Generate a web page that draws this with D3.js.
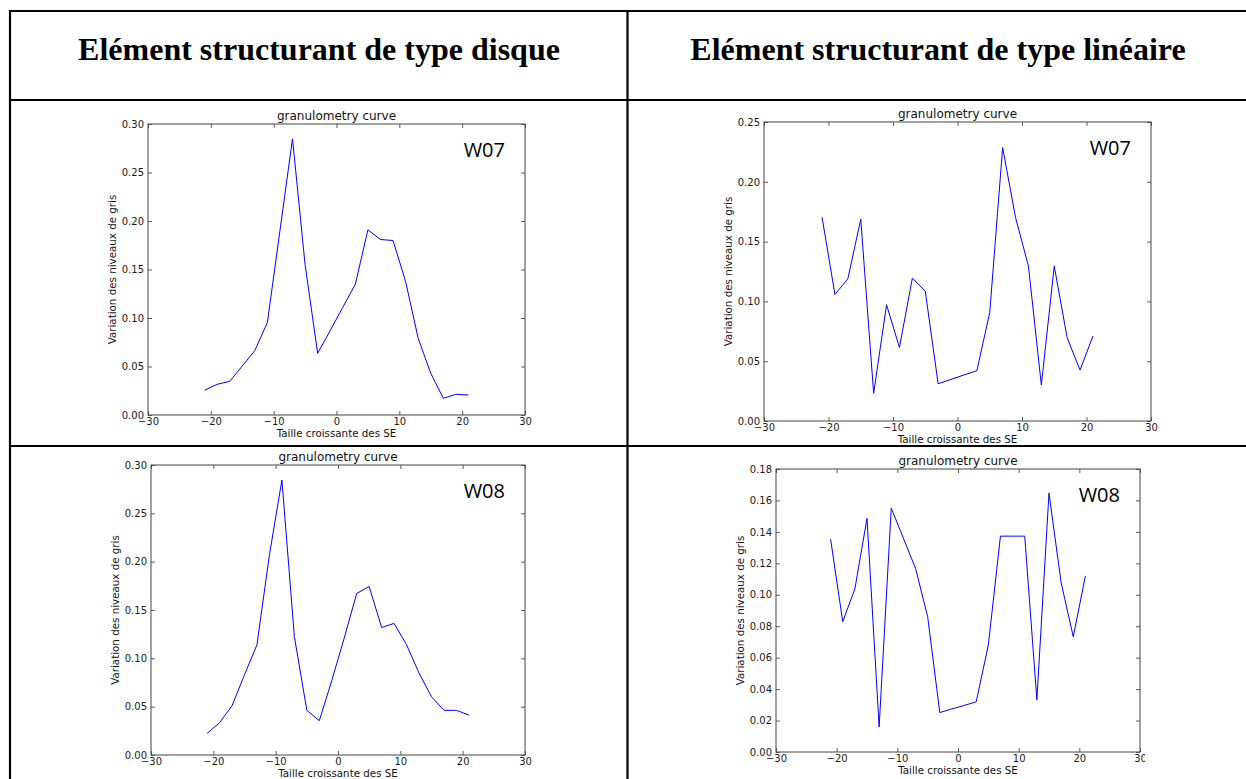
<!DOCTYPE html>
<html>
<head>
<meta charset="utf-8">
<script src="https://cdn.jsdelivr.net/npm/d3@7"></script>
<style>
  html, body { margin: 0; padding: 0; background: #fff; }
  svg { display: block; }
  .tick text { font-family: "DejaVu Sans", sans-serif; font-size: 10px; fill: #1a1a1a; }
</style>
</head>
<body>
<div id="chart"></div>
<script>
// structuring element sizes (x values)
const sizes = [-21, -19, -17, -15, -13, -11, -9, -7, -5, -3, -1, 1, 3, 5, 7, 9, 11, 13, 15, 17, 19, 21];

// granulometry curves
const disqueW07 = [0.0255, 0.0316, 0.0347, 0.0505, 0.0664, 0.0953, 0.190, 0.2848, 0.155, 0.0636,
  0.087, 0.111, 0.1349, 0.1909, 0.1809, 0.1799, 0.1376, 0.0791, 0.043, 0.0172, 0.0213, 0.0206];
const lineaireW07 = [0.1704, 0.1058, 0.1189, 0.1687, 0.0231, 0.0972, 0.0615, 0.1194, 0.1086, 0.0312,
  0.0348, 0.0385, 0.0420, 0.0908, 0.2286, 0.1701, 0.1295, 0.0301, 0.1295, 0.0696, 0.0426, 0.0710];
const disqueW08 = [0.0224, 0.0334, 0.0510, 0.083, 0.114, 0.207, 0.2845, 0.1226, 0.0462, 0.0355,
  0.077, 0.121, 0.1671, 0.1743, 0.1319, 0.1361, 0.114, 0.0847, 0.0603, 0.0462, 0.0462, 0.0413];
const lineaireW08 = [0.1354, 0.0829, 0.1037, 0.1486, 0.0159, 0.1551, 0.136, 0.1168, 0.0861, 0.0251,
  0.0274, 0.0296, 0.0319, 0.068, 0.1373, 0.1373, 0.1373, 0.0332, 0.1647, 0.1077, 0.0733, 0.112];

const xTicks = [-30, -20, -10, 0, 10, 20, 30];
const yTicksDisque = [0, 0.05, 0.10, 0.15, 0.20, 0.25, 0.30];
const yTicksLinW07 = [0, 0.05, 0.10, 0.15, 0.20, 0.25];
const yTicksLinW08 = [0, 0.02, 0.04, 0.06, 0.08, 0.10, 0.12, 0.14, 0.16, 0.18];

const headers = ["Elément structurant de type disque", "Elément structurant de type linéaire"];
const chartTitle = "granulometry curve";
const xLabel = "Taille croissante des SE";
const yLabel = "Variation des niveaux de gris";

const W = 1246, H = 779;

const svg = d3.select("#chart").append("svg")
  .attr("width", W)
  .attr("height", H);

// table grid
const grid = svg.append("g").attr("stroke", "#000").attr("stroke-width", 2.2);
grid.append("line").attr("x1", 9).attr("x2", W + 5).attr("y1", 11).attr("y2", 11);
grid.append("line").attr("x1", 9).attr("x2", W + 5).attr("y1", 100).attr("y2", 100);
grid.append("line").attr("x1", 9).attr("x2", W + 5).attr("y1", 446).attr("y2", 446);
grid.append("line").attr("x1", 10).attr("x2", 10).attr("y1", 10).attr("y2", H + 5);
grid.append("line").attr("x1", 627.5).attr("x2", 627.5).attr("y1", 10).attr("y2", H + 5);

svg.selectAll(".header")
  .data(headers)
  .enter()
  .append("text")
  .attr("class", "header")
  .attr("x", (d, i) => i === 0 ? 319 : 938)
  .attr("y", 60)
  .attr("text-anchor", "middle")
  .style("font-family", "'Liberation Serif', 'Times New Roman', serif")
  .style("font-weight", "bold")
  .style("font-size", "32px")
  .text(d => d);

function drawPanel(opts) {
  const { left, right, top, bottom, values, yMax, yTicks, tag, clipRight } = opts;

  const g = svg.append("g");
  if (clipRight) {
    const id = "clip" + tag + left;
    svg.append("clipPath").attr("id", id)
      .append("rect").attr("x", 0).attr("y", 0).attr("width", clipRight).attr("height", H);
    g.attr("clip-path", `url(#${id})`);
  }

  const x = d3.scaleLinear().domain([-30, 30]).range([left, right]);
  const y = d3.scaleLinear().domain([0, yMax]).range([bottom, top]);

  const fmtY = d3.format(".2f");
  const fmtX = d3.format("d");

  // matplotlib-ish: ticks pointing inwards on all four sides
  g.append("g")
    .attr("transform", `translate(0,${bottom})`)
    .call(d3.axisBottom(x).tickValues(xTicks).tickFormat(fmtX).tickSizeInner(-4).tickSizeOuter(0).tickPadding(3));
  g.append("g")
    .attr("transform", `translate(0,${top})`)
    .call(d3.axisTop(x).tickValues(xTicks).tickFormat("").tickSizeInner(-4).tickSizeOuter(0));
  g.append("g")
    .attr("transform", `translate(${left},0)`)
    .call(d3.axisLeft(y).tickValues(yTicks).tickFormat(fmtY).tickSizeInner(-4).tickSizeOuter(0).tickPadding(4));
  g.append("g")
    .attr("transform", `translate(${right},0)`)
    .call(d3.axisRight(y).tickValues(yTicks).tickFormat("").tickSizeInner(-4).tickSizeOuter(0));

  g.selectAll(".domain").remove();
  g.selectAll(".tick line").attr("stroke", "#333").attr("stroke-width", 0.8);

  g.append("rect")
    .attr("x", left).attr("y", top)
    .attr("width", right - left).attr("height", bottom - top)
    .attr("fill", "none")
    .attr("stroke", "#444")
    .attr("stroke-width", 1);

  const line = d3.line()
    .x((d, i) => x(sizes[i]))
    .y(d => y(d));

  g.append("path")
    .datum(values)
    .attr("fill", "none")
    .attr("stroke", "#0000ff")
    .attr("stroke-width", 1)
    .attr("d", line);

  g.append("text")
    .attr("x", (left + right) / 2)
    .attr("y", top - 4)
    .attr("text-anchor", "middle")
    .style("font-family", "'DejaVu Sans', sans-serif")
    .style("font-size", "12px")
    .style("fill", "#111")
    .text(chartTitle);

  g.append("text")
    .attr("x", (left + right) / 2)
    .attr("y", bottom + 22)
    .attr("text-anchor", "middle")
    .style("font-family", "'DejaVu Sans', sans-serif")
    .style("font-size", "10.3px")
    .style("fill", "#111")
    .text(xLabel);

  g.append("text")
    .attr("transform", `translate(${left - 32},${(top + bottom) / 2}) rotate(-90)`)
    .attr("text-anchor", "middle")
    .style("font-family", "'DejaVu Sans', sans-serif")
    .style("font-size", "10.3px")
    .style("fill", "#111")
    .text(yLabel);

  g.append("text")
    .attr("x", right - 20)
    .attr("y", top + 33)
    .attr("text-anchor", "end")
    .style("font-family", "'Open Sans', 'Liberation Sans', sans-serif")
    .style("font-size", "20px")
    .style("fill", "#000")
    .text(tag);
}

drawPanel({ left: 148, right: 525, top: 124, bottom: 415, values: disqueW07, yMax: 0.30, yTicks: yTicksDisque, tag: "W07" });
drawPanel({ left: 764, right: 1151, top: 122, bottom: 421, values: lineaireW07, yMax: 0.25, yTicks: yTicksLinW07, tag: "W07" });
drawPanel({ left: 151, right: 525, top: 465, bottom: 755, values: disqueW08, yMax: 0.30, yTicks: yTicksDisque, tag: "W08" });
drawPanel({ left: 776, right: 1140, top: 469, bottom: 752, values: lineaireW08, yMax: 0.18, yTicks: yTicksLinW08, tag: "W08", clipRight: 1145 });
</script>
</body>
</html>
